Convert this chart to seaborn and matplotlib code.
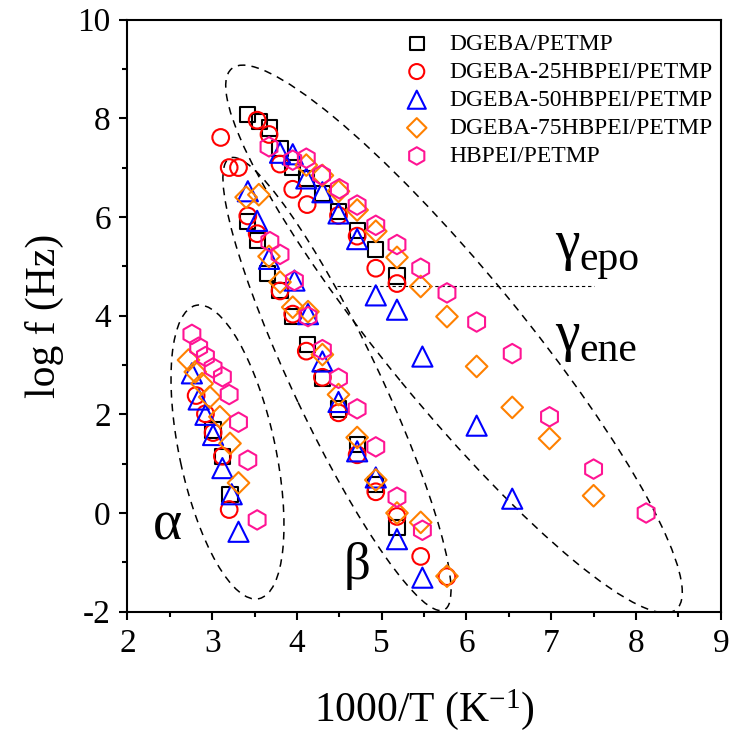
import numpy as np
import pandas as pd
import matplotlib
matplotlib.use("Agg")
import matplotlib.pyplot as plt
from matplotlib.patches import Ellipse
from matplotlib.transforms import Affine2D
from matplotlib.ticker import MultipleLocator
import seaborn as sns

# ---------------- data ----------------
series_names = ["DGEBA/PETMP", "DGEBA-25HBPEI/PETMP", "DGEBA-50HBPEI/PETMP",
                "DGEBA-75HBPEI/PETMP", "HBPEI/PETMP"]

x_dgeba = [3.01, 3.12, 3.21,
           3.42, 3.53, 3.65, 3.80, 3.95, 4.12, 4.30, 4.49, 4.71, 4.93, 5.18,
           3.42, 3.56, 3.68, 3.80, 3.95, 4.11, 4.30, 4.49, 4.71, 4.93, 5.18]
y_dgeba = [1.68, 1.15, 0.38,
           5.90, 5.52, 4.86, 4.51, 3.98, 3.42, 2.73, 2.11, 1.39, 0.58, -0.29,
           8.08, 7.93, 7.80, 7.39, 7.00, 6.78, 6.47, 6.11, 5.73, 5.34, 4.80]

x_25 = [2.81, 2.92, 3.01, 3.12, 3.20,
        3.10, 3.20, 3.31, 3.42, 3.53, 3.80, 3.95, 4.11, 4.30, 4.49, 4.71, 4.93, 5.18, 5.46, 5.77,
        3.53, 3.67, 3.80, 3.95, 4.12, 4.49, 4.71, 4.93, 5.18]
y_25 = [2.38, 2.01, 1.63, 1.15, 0.07,
        7.61, 7.00, 7.00, 6.02, 5.66, 4.50, 4.03, 3.28, 2.75, 2.03, 1.18, 0.43, -0.07, -0.88, -1.29,
        7.96, 7.67, 7.07, 6.56, 6.25, 6.03, 5.61, 4.96, 4.65]

x_50 = [2.76, 2.84, 2.92, 3.01, 3.12, 3.23, 3.31,
        3.42, 3.53, 3.67, 3.97, 4.13, 4.30, 4.49, 4.71, 4.93, 5.18, 5.48,
        3.80, 3.95, 4.11, 4.30, 4.49, 4.71, 4.93, 5.18, 5.48, 6.12, 6.54]
y_50 = [2.83, 2.30, 1.99, 1.58, 0.91, 0.38, -0.38,
        6.52, 5.92, 5.15, 4.71, 4.03, 3.07, 2.25, 1.25, 0.72, -0.53, -1.31,
        7.30, 7.27, 6.78, 6.50, 6.07, 5.55, 4.41, 4.12, 3.17, 1.77, 0.29]

x_75 = [2.72, 2.80, 2.88, 2.97, 3.09, 3.21, 3.31,
        3.40, 3.55, 3.67, 3.80, 3.95, 4.13, 4.30, 4.49, 4.71, 4.93, 5.18, 5.46, 5.77,
        4.11, 4.30, 4.49, 4.71, 4.93, 5.18, 5.46, 5.77, 6.12, 6.54, 6.98, 7.50]
y_75 = [3.10, 2.86, 2.62, 2.35, 1.95, 1.41, 0.61,
        6.40, 6.45, 5.20, 4.68, 4.17, 4.08, 3.21, 2.40, 1.53, 0.67, 0.00, -0.19, -1.28,
        7.05, 6.84, 6.52, 6.14, 5.71, 5.18, 4.59, 3.98, 2.97, 2.14, 1.51, 0.35]

x_hb = [2.76, 2.84, 2.92, 3.01, 3.12, 3.20, 3.31, 3.42, 3.53,
        3.68, 3.80, 3.97, 4.13, 4.30, 4.49, 4.71, 4.93, 5.18, 5.48,
        3.67, 3.95, 4.11, 4.29, 4.50, 4.71, 4.93, 5.18, 5.46, 5.77, 6.12, 6.54, 6.98, 7.50, 8.12]
y_hb = [3.62, 3.36, 3.17, 2.94, 2.76, 2.40, 1.84, 1.07, -0.14,
        5.50, 5.24, 4.71, 3.98, 3.31, 2.73, 2.11, 1.34, 0.32, -0.35,
        7.42, 7.15, 7.19, 6.85, 6.57, 6.24, 5.83, 5.44, 4.96, 4.46, 3.87, 3.23, 1.95, 0.89, 0.00]

xs = [x_dgeba, x_25, x_50, x_75, x_hb]
ys = [y_dgeba, y_25, y_50, y_75, y_hb]

colors = ["#000000", "#ff0000", "#0000ff", "#ff8000", "#ff1493"]
markers = ["s", "o", "^", "D", "h"]
msizes = [11, 12, 14.5, 11, 14]   # marker size in points

frames = []
for name, xv, yv in zip(series_names, xs, ys):
    frames.append(pd.DataFrame({"x": xv, "y": yv, "series": name}))
df = pd.concat(frames, ignore_index=True)

# ---------------- figure ----------------
sns.set_style("ticks")
plt.rcParams["font.family"] = ["Liberation Serif", "DejaVu Serif"]
plt.rcParams["mathtext.fontset"] = "custom"
plt.rcParams["mathtext.rm"] = "Liberation Serif"
plt.rcParams["mathtext.it"] = "Liberation Serif:italic"
plt.rcParams["axes.unicode_minus"] = False
for key in ["text.color", "axes.labelcolor", "xtick.color", "ytick.color",
            "xtick.labelcolor", "ytick.labelcolor", "axes.edgecolor"]:
    plt.rcParams[key] = "black"

fig = plt.figure(figsize=(7.31, 7.42), dpi=100)
ax = fig.add_axes([0.1744, 0.1756, 0.8115, 0.7981])

for name, col, mk, ms in zip(series_names, colors, markers, msizes):
    sub = df[df["series"] == name]
    sns.scatterplot(data=sub, x="x", y="y", ax=ax, marker=mk, s=ms ** 2,
                    facecolor="none", edgecolor=col, linewidth=1.5,
                    label=name, legend=False, zorder=3)

ax.set_xlim(2, 9)
ax.set_ylim(-2, 10)
ax.xaxis.set_major_locator(MultipleLocator(1))
ax.xaxis.set_minor_locator(MultipleLocator(0.5))
ax.yaxis.set_major_locator(MultipleLocator(2))
ax.yaxis.set_minor_locator(MultipleLocator(1))
ax.tick_params(axis="both", which="major", direction="out", length=6, width=1.5,
               labelsize=24, pad=6, top=False, right=False, colors="black")
ax.tick_params(axis="both", which="minor", direction="out", length=3.5, width=1.5,
               top=False, right=False, colors="black")
for sp in ax.spines.values():
    sp.set_visible(True)
    sp.set_linewidth(1.5)
    sp.set_color("black")

ax.set_xlabel("1000/T (K$^{\\mathrm{-1}}$)", fontsize=30, labelpad=20, color="black")
ax.set_ylabel("log f (Hz)", fontsize=30, labelpad=10, color="black")

# ---------------- region ellipses (in reference pixel-like units) ----------------
SX, SY = 84.74, 49.35
scaled = Affine2D().scale(1 / SX, 1 / SY) + ax.transData
region_centers = [(3.180, 1.236), (4.472, 2.614), (5.853, 3.526)]
region_axes = [(300, 96), (500, 86), (700, 136)]
region_angles = [-77.9, -64.6, -50.6]
for (cx, cy), (w, h), ang in zip(region_centers, region_axes, region_angles):
    e = Ellipse((cx * SX, cy * SY), w, h, angle=ang, transform=scaled,
                fill=False, edgecolor="black", linestyle=(0, (5, 4)),
                linewidth=1.1, zorder=2)
    ax.add_patch(e)

ax.plot([4.47, 7.50], [4.59, 4.59], color="black", linestyle=(0, (3, 2.5)),
        linewidth=0.8, zorder=2)

# region labels
ax.text(2.30, -0.25, "α", fontsize=40, ha="left", va="center")
ax.text(4.55, -1.08, "β", fontsize=38, ha="left", va="center")
ax.text(7.05, 5.15, "γ", fontsize=40, ha="left", va="baseline")
ax.text(7.33, 4.93, "epo", fontsize=30, ha="left", va="baseline")
ax.text(7.05, 3.30, "γ", fontsize=40, ha="left", va="baseline")
ax.text(7.33, 3.08, "ene", fontsize=30, ha="left", va="baseline")

leg = ax.legend(loc="upper right", bbox_to_anchor=(1.015, 1.005), frameon=False,
                fontsize=17, handletextpad=0.9, labelspacing=0.28,
                borderaxespad=0.3, handlelength=1.0)
for h, ms in zip(leg.legend_handles, msizes):
    h.set_sizes([(ms * 0.9) ** 2])

fig.savefig("out.png", dpi=100)
